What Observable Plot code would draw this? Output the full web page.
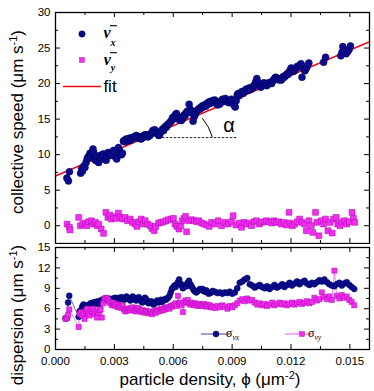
<!DOCTYPE html>
<html><head><meta charset="utf-8">
<script src="https://cdn.jsdelivr.net/npm/d3@7"></script>
<script src="https://cdn.jsdelivr.net/npm/@observablehq/plot@0.6"></script>
<style>
body{margin:0;background:#fff;}
#wrap{position:relative;width:374px;height:391px;overflow:hidden;font-family:"Liberation Sans",Arial,sans-serif;color:#000;}
#wrap svg{position:absolute;left:0;}
.lbl{position:absolute;white-space:nowrap;font-size:17px;line-height:1;}
.lbl sup{font-size:11px;vertical-align:6px;line-height:0;}
</style></head><body><div id="wrap"></div>
<script>
// ---------- data ----------
const xDomain = [0, 0.016];
const xMajorTicks = [0, 0.003, 0.006, 0.009, 0.012, 0.015];
const xMinorTicks = [0.0015, 0.0045, 0.0075, 0.0105, 0.0135];
const topYDomain = [-2.5, 30];
const topYMajor = [0, 5, 10, 15, 20, 25, 30];
const topYMinor = [2.5, 7.5, 12.5, 17.5, 22.5, 27.5];
const botYDomain = [0, 15];
const botYMajor = [0, 3, 6, 9, 12, 15];
const botYMinor = [1.5, 4.5, 7.5, 10.5, 13.5];

const fitPhi = [0, 0.016];
const fitV = [7.0, 25.9];
const dashV = 12.4, dashPhi = [0.00524, 0.00925];
const arcStart = [0.00802, 12.4], arcEnd = [0.00751, 15.05];

// mean velocity x  [phi, v]
const vxPoints = [
[0.00058,6.7],[0.00066,6.3],[0.00071,7.6],
[0.00128,7.4],[0.00133,8.0],[0.00138,7.7],[0.00145,8.4],[0.00150,8.2],[0.00156,8.9],[0.00161,9.4],[0.00166,9.7],[0.00170,9.6],[0.00176,10.2],[0.00181,10.0],[0.00186,10.3],[0.00191,10.8],[0.00195,10.3],[0.00199,9.4],[0.00203,9.2],[0.00207,9.8],[0.00212,9.6],[0.00216,9.0],[0.00220,8.9],[0.00225,9.5],[0.00230,9.9],[0.00234,9.6],[0.00239,10.0],[0.00244,10.1],[0.00249,9.7],[0.00254,9.3],[0.00258,9.2],[0.00263,9.8],[0.00268,10.3],[0.00272,10.0],[0.00277,9.9],[0.00282,10.2],[0.00287,9.9],[0.00292,10.5],[0.00297,10.6],[0.00302,10.4],[0.00307,9.6],[0.00312,9.4],[0.00317,10.4],[0.00321,11.0],[0.00326,10.6],[0.00331,10.3],[0.00336,10.0],[0.00341,10.2],
[0.00346,11.9],[0.00350,12.0],[0.00355,11.8],[0.00360,12.2],[0.00365,12.1],[0.00370,12.0],[0.00375,12.3],[0.00380,12.0],[0.00385,12.2],[0.00390,12.4],[0.00395,12.3],[0.00400,12.5],[0.00406,12.4],[0.00411,12.7],[0.00416,12.6],[0.00421,12.3],[0.00426,12.5],[0.00431,12.4],[0.00436,12.2],[0.00441,12.6],[0.00446,12.4],[0.00451,12.5],[0.00456,12.8],[0.00461,12.6],[0.00466,12.8],[0.00471,12.5],[0.00476,12.7],[0.00481,12.7],[0.00486,12.9],[0.00491,13.1],[0.00496,13.4],[0.00501,13.2],[0.00506,13.5],[0.00511,13.1],[0.00516,13.0],[0.00521,12.9],[0.00526,12.7],[0.00531,12.8],[0.00536,13.2],[0.00541,13.4],[0.00546,13.6],[0.00551,13.4],[0.00556,13.8],[0.00561,14.0],[0.00566,13.9],[0.00571,14.2],[0.00576,14.3],[0.00581,14.5],[0.00586,14.6],[0.00591,14.8],[0.00596,15.2],[0.00601,15.0],[0.00606,15.4],
[0.00611,15.6],[0.00616,15.8],[0.00621,15.5],[0.00626,15.2],[0.00631,14.9],[0.00636,15.1],[0.00641,14.8],[0.00646,15.0],[0.00651,15.3],[0.00656,15.6],[0.00661,15.5],[0.00666,15.9],[0.00671,16.1],[0.00676,16.0],[0.00681,17.1],[0.00686,16.4],[0.00691,15.9],[0.00696,16.1],[0.00701,14.7],[0.00706,15.3],[0.00711,15.6],[0.00716,15.9],[0.00721,16.2],[0.00726,16.3],[0.00731,16.5],[0.00736,16.4],[0.00741,16.7],[0.00746,16.6],[0.00751,16.9],[0.00756,16.8],[0.00761,17.0],[0.00766,16.8],[0.00771,17.2],[0.00776,17.1],[0.00781,17.4],[0.00786,17.2],[0.00791,17.5],[0.00796,17.3],[0.00801,17.6],[0.00806,17.4],[0.00811,17.7],[0.00816,17.5],[0.00821,17.2],[0.00826,17.0],[0.00831,17.3],[0.00836,17.1],[0.00841,17.3],[0.00846,17.6],[0.00851,17.8],[0.00856,17.5],[0.00861,17.7],[0.00866,17.9],[0.00871,17.6],[0.00876,17.4],[0.00881,17.5],[0.00886,17.3],[0.00891,17.6],[0.00896,17.8],[0.00901,17.5],[0.00906,17.2],[0.00911,16.9],[0.00916,16.7],[0.00921,17.6],[0.00926,18.4],[0.00931,18.6],[0.00936,18.3],[0.00941,18.5],[0.00946,18.7],[0.00951,18.9],[0.00956,18.6],[0.00961,18.8],[0.00966,19.0],[0.00971,19.2],[0.00976,19.0],[0.00981,19.3],[0.00986,19.1],[0.00991,19.4],[0.00996,19.2],[0.01001,19.5],[0.01006,19.4],[0.01011,19.7],[0.01016,19.9],[0.01021,20.3],[0.01026,20.7],[0.01031,20.2],[0.01036,19.8],[0.01041,19.6],[0.01046,19.5],[0.01051,19.8],[0.01056,19.9],[0.01061,20.1],[0.01066,19.9],[0.01071,20.0],[0.01076,19.7],[0.01081,19.9],[0.01086,20.1],[0.01091,20.0],[0.01096,20.2],[0.01101,20.0],[0.01106,20.3],[0.01111,20.5],[0.01116,20.7],[0.01121,20.9],[0.01126,20.8],[0.01131,20.6],[0.01136,20.7],[0.01141,20.5],[0.01146,20.6],[0.01151,20.5],[0.01156,20.8],[0.01161,21.0],[0.01166,20.9],[0.01171,21.1],[0.01176,21.2],[0.01181,21.4],[0.01186,21.3],[0.01191,21.6],[0.01196,21.9],[0.01201,22.2],[0.01206,21.9],[0.01211,21.7],[0.01216,21.8],[0.01221,22.0],[0.01226,22.2],[0.01231,22.4],[0.01236,22.3],[0.01241,22.5],[0.01246,22.6],[0.01251,22.8],[0.01256,20.9],[0.01261,22.4],[0.01266,22.0],[0.01271,21.8],[0.01276,22.1],[0.01281,22.3],[0.01291,22.9],
[0.01366,23.0],[0.01376,23.7],[0.01454,23.9],[0.01460,24.4],[0.01464,25.2],[0.01472,24.6],[0.01481,24.2],[0.01489,24.5],[0.01496,24.8],[0.01503,25.3]
];

// mean velocity y  [phi, v]
const vyPoints = [
[0.00059,0.23],[0.00071,-0.23],[0.00074,-0.6],[0.00118,1.17],[0.00127,0],[0.00139,0.23],[0.00152,0.38],[0.00161,0],[0.00169,0.56],[0.00183,0.7],[0.00195,0.23],[0.00203,0.47],[0.00212,0],[0.00220,0.23],[0.00233,-0.47],[0.00245,-1.08],
[0.00257,1.88],[0.00267,1.17],[0.00276,1.5],[0.00284,0.94],[0.00296,1.27],[0.00308,1.03],[0.00321,1.78],[0.00330,1.17],[0.00342,0.94],[0.00355,1.17],[0.00367,0.7],[0.00381,0.94],[0.00393,0.47],[0.00406,0.23],[0.00415,-0.1],[0.00426,0.56],[0.00437,0.94],[0.00448,0.23],[0.00457,0.7],[0.00470,0.23],[0.00482,0],[0.00491,-0.38],[0.00503,-0.7],[0.00511,-0.1],[0.00525,0.38],[0.00538,0.47],[0.00550,0.56],[0.00563,0.7],[0.00575,0.85],[0.00589,0.94],[0.00601,1.03],[0.00609,0.23],[0.00619,-0.1],[0.00629,-0.47],[0.00638,0],[0.00646,0.7],[0.00655,1.03],[0.00663,1.31],[0.00668,-0.85],[0.00680,0.7],[0.00694,0.85],[0.00707,0.7],[0.00719,0.56],[0.00731,0.7],[0.00745,0.38],[0.00756,0.23],[0.00770,0.1],[0.00783,-0.1],[0.00795,0.47],
[0.00812,0.23],[0.00829,0.7],[0.00846,0],[0.00863,0.47],[0.00880,0.23],[0.00897,0.56],[0.00905,1.41],[0.00919,0.1],[0.00936,0.38],[0.00948,-0.23],[0.00960,0.47],[0.00973,0.23],[0.00987,0.38],[0.00999,0],[0.01012,0.56],[0.01024,0.7],[0.01038,0.23],[0.01050,0.47],[0.01063,0.56],[0.01075,0.7],[0.01089,0.56],[0.01101,0.38],[0.01113,0.7],[0.01126,0.47],[0.01138,0.56],[0.01151,0.23],[0.01164,0.47],[0.01177,0.1],[0.01190,1.88],[0.01193,0.38],[0.01207,0],[0.01219,0.23],[0.01231,0.56],[0.01244,0.94],[0.01256,0.47],[0.01269,0.23],[0.01278,-0.7],[0.01291,0.7],[0.01303,0],[0.01311,-0.94],[0.01325,1.88],[0.01332,0.47],[0.01342,-1.41],[0.01354,0.7],[0.01366,0.23],[0.01376,0.94],[0.01388,-0.7],[0.01399,0.47],[0.01410,-1.03],[0.01417,0.94],[0.01430,1.17],[0.01438,0.23],[0.01450,0],[0.01460,0.47],[0.01472,0.7],[0.01484,0.23],[0.01497,0.56],[0.01511,1.88],[0.01518,1.03],[0.01525,0.47]
];

// dispersion  [phi, sigma_vx, sigma_vy]
const sigmaPoints = [
[0.00051,4.6,4.5],[0.00058,4.6,4.7],[0.00064,6.9,5.1],[0.00070,7.9,5.9],
[0.00118,4.8,3.3],[0.00123,5.6,5.2],[0.00130,5.8,5.5],[0.00136,6.3,5.0],[0.00142,6.6,5.4],[0.00148,6.1,4.5],[0.00155,6.5,5.7],[0.00161,6.0,6.0],[0.00167,6.4,5.3],[0.00173,6.6,5.0],[0.00179,6.8,5.9],[0.00186,6.5,5.5],[0.00192,6.9,6.0],[0.00198,6.6,5.2],[0.00205,7.0,5.6],[0.00211,6.8,4.7],[0.00217,7.1,5.4],[0.00224,6.7,5.8],[0.00230,7.0,5.9],[0.00236,7.3,4.7],[0.00243,7.1,6.8],[0.00249,7.4,7.4],[0.00255,7.5,7.6],[0.00262,7.3,7.5],[0.00268,7.5,7.3],[0.00274,7.2,7.0],[0.00280,7.4,6.8],[0.00287,7.2,6.5],[0.00293,7.5,6.9],[0.00299,7.4,6.6],[0.00305,7.6,6.4],[0.00312,7.2,6.7],[0.00318,7.3,6.2],[0.00324,7.6,6.5],[0.00330,7.4,6.3],[0.00337,7.7,6.1],[0.00343,7.5,6.4],[0.00349,7.3,5.9],[0.00355,7.5,5.6],[0.00362,7.8,6.0],[0.00368,7.6,5.7],[0.00374,7.4,6.0],[0.00381,7.2,5.8],[0.00387,7.5,6.1],[0.00393,7.8,6.2],[0.00399,7.6,5.8],[0.00406,7.3,5.6],[0.00412,7.2,5.9],[0.00418,7.5,6.1],[0.00424,7.7,6.0],[0.00431,7.4,5.7],[0.00437,7.1,5.5],[0.00443,6.9,5.8],[0.00449,7.2,5.6],[0.00456,7.6,5.4],[0.00462,7.4,5.7],[0.00468,7.0,5.5],[0.00474,6.8,5.3],[0.00481,6.9,5.6],[0.00487,7.1,5.4],[0.00493,6.8,5.2],[0.00499,6.6,5.5],[0.00506,6.8,5.7],[0.00512,7.0,5.4],[0.00518,7.2,5.8],[0.00524,6.9,5.6],[0.00531,7.1,5.9],[0.00537,7.3,5.7],[0.00543,7.0,6.0],[0.00549,7.2,5.8],[0.00556,7.4,6.1],[0.00562,7.3,5.9],[0.00568,7.5,6.2],
[0.00574,7.6,6.2],[0.00581,7.9,6.0],[0.00587,8.4,6.4],[0.00593,8.9,6.3],[0.00599,9.1,6.5],[0.00606,9.4,6.6],[0.00612,9.2,6.8],[0.00618,9.6,6.4],[0.00624,9.9,7.9],[0.00630,10.3,6.7],[0.00637,9.7,6.9],[0.00643,9.4,6.5],[0.00649,9.0,5.5],[0.00655,9.2,6.9],[0.00662,9.5,7.2],[0.00668,9.3,7.0],[0.00674,9.8,7.3],[0.00680,10.1,6.8],[0.00687,9.6,6.6],[0.00693,9.3,6.9],[0.00699,9.0,6.7],[0.00705,8.7,6.5],[0.00712,8.5,6.8],[0.00718,8.4,6.6],[0.00724,8.6,6.4],[0.00730,8.7,6.7],[0.00737,8.9,6.5],[0.00743,8.8,6.6],[0.00749,8.9,6.4],[0.00755,8.6,6.7],[0.00762,8.5,6.5],[0.00768,8.7,6.3],[0.00774,8.4,6.6],[0.00780,8.2,6.4],[0.00787,8.3,6.5],[0.00793,8.4,6.2],
[0.00800,8.6,6.3],[0.00812,8.5,6.1],[0.00825,8.3,6.4],[0.00838,8.4,6.2],[0.00850,8.2,6.5],[0.00863,8.4,6.3],[0.00876,8.3,6.0],[0.00888,8.5,6.4],[0.00901,8.2,6.2],[0.00914,8.4,6.5],[0.00926,9.0,6.8],[0.00939,9.8,7.2],[0.00952,10.0,7.4],[0.00964,10.3,7.1],[0.00977,10.5,7.5],[0.00990,9.6,7.2],[0.01002,9.4,7.3],[0.01015,9.1,6.9],[0.01028,9.3,6.6],[0.01040,9.5,6.8],[0.01053,9.2,6.5],[0.01066,9.0,6.7],[0.01078,9.3,6.4],[0.01091,8.9,6.6],[0.01104,9.2,6.9],[0.01116,9.5,6.5],[0.01129,9.1,6.7],[0.01142,9.3,6.9],[0.01155,9.6,6.6],[0.01167,9.2,6.8],[0.01180,9.5,6.5],[0.01193,9.8,6.7],[0.01205,9.4,6.9],[0.01218,9.7,6.6],[0.01231,10.0,6.8],[0.01243,9.6,7.0],[0.01256,9.9,6.7],[0.01269,10.1,6.9],[0.01281,9.7,7.1],[0.01294,9.5,6.8],[0.01307,9.8,7.0],[0.01319,9.6,7.6],[0.01332,9.9,7.2],[0.01345,10.2,7.4],[0.01357,10.0,8.4],[0.01370,10.3,7.7],[0.01383,9.9,7.4],[0.01395,9.6,7.8],[0.01408,9.4,7.3],[0.01421,9.3,11.6],[0.01433,9.6,7.9],[0.01446,9.8,7.5],[0.01459,9.4,8.0],[0.01471,9.7,7.6],[0.01484,9.9,7.8],[0.01497,9.5,7.3],[0.01509,9.2,7.0],[0.01522,8.9,6.5]
];

// ---------- style ----------
const FONT = "'Liberation Sans', Arial, sans-serif";
const SERIF = "'Liberation Serif', 'Times New Roman', serif";
const BLUE = "#0c0c8e", BLUED = "#00005c";
const MAG = "#f02ef0", MAGD = "#b000b0";
const RED = "#e8101c";
const W = 374, ML = 55, MR = 5;
const PW = W - ML - MR;

function frameTicks(xs, ys, ph, len) {
  return [
    Plot.tickX(xs, {x: d => d, insetBottom: ph - len, stroke: "#000"}),
    Plot.tickX(xs, {x: d => d, insetTop: ph - len, stroke: "#000"}),
    Plot.tickY(ys, {y: d => d, insetRight: PW - len, stroke: "#000"}),
    Plot.tickY(ys, {y: d => d, insetLeft: PW - len, stroke: "#000"})
  ];
}

const vxData = vxPoints.map(([phi, v]) => ({phi, v}));
const vyData = vyPoints.map(([phi, v]) => ({phi, v}));
const fitData = fitPhi.map((phi, i) => ({phi, v: fitV[i]}));
const sData = sigmaPoints.map(([phi, sx, sy]) => ({phi, sx, sy}));

// ---------- top panel ----------
const TH = 244, TMT = 12, TMB = 1;
const TPH = TH - TMT - TMB;
const topPlot = Plot.plot({
  width: W, height: TH, marginTop: TMT, marginBottom: TMB, marginLeft: ML, marginRight: MR,
  style: {fontFamily: FONT, fontSize: "11.5px", background: "white", overflow: "visible"},
  x: {domain: xDomain, axis: null},
  y: {domain: topYDomain},
  marks: [
    Plot.line(fitData, {x: "phi", y: "v", stroke: RED, strokeWidth: 1.6}),
    Plot.ruleY([{v: dashV, a: dashPhi[0], b: dashPhi[1]}], {y: "v", x1: "a", x2: "b", stroke: "#222", strokeWidth: 1, strokeDasharray: "2.5,1.5"}),
    Plot.dot(vyData, {x: "phi", y: "v", symbol: "square", r: 3.3, fill: MAG, stroke: MAGD, strokeWidth: 0.5}),
    Plot.dot(vxData, {x: "phi", y: "v", r: 3.5, fill: BLUE, stroke: BLUED, strokeWidth: 0.5}),
    ...frameTicks(xMajorTicks, topYMajor, TPH, 5),
    ...frameTicks(xMinorTicks, topYMinor, TPH, 3),
    Plot.axisY({ticks: topYMajor, tickSize: 0, tickPadding: 5, label: null, fontSize: 11.5, tickFormat: d => String(d)}),
    Plot.frame({stroke: "#000", strokeWidth: 1.3})
  ]
});
topPlot.style.top = "0px";

// ---------- bottom panel ----------
const BH = 391 - TH, BMT = 3, BMB = 42;
const BPH = BH - BMT - BMB;
const bottomPlot = Plot.plot({
  width: W, height: BH, marginTop: BMT, marginBottom: BMB, marginLeft: ML, marginRight: MR,
  style: {fontFamily: FONT, fontSize: "11.5px", background: "white", overflow: "visible"},
  x: {domain: xDomain},
  y: {domain: botYDomain},
  marks: [
    Plot.line(sData, {x: "phi", y: "sx", stroke: BLUE, strokeWidth: 0.6}),
    Plot.line(sData, {x: "phi", y: "sy", stroke: MAG, strokeWidth: 0.6}),
    Plot.dot(sData, {x: "phi", y: "sx", r: 3, fill: BLUE, stroke: BLUED, strokeWidth: 0.5}),
    Plot.dot(sData, {x: "phi", y: "sy", symbol: "square", r: 2.9, fill: MAG, stroke: MAGD, strokeWidth: 0.5}),
    ...frameTicks(xMajorTicks, botYMajor, BPH, 5),
    ...frameTicks(xMinorTicks, botYMinor, BPH, 3),
    Plot.axisY({ticks: botYMajor, tickSize: 0, tickPadding: 5, label: null, fontSize: 11.5, tickFormat: d => String(d)}),
    Plot.axisX({ticks: xMajorTicks, tickSize: 0, tickPadding: 7, label: null, fontSize: 11.5, tickFormat: d3.format(".3f")}),
    Plot.frame({stroke: "#000", strokeWidth: 1.3})
  ]
});
bottomPlot.style.top = TH + "px";

const wrap = document.getElementById("wrap");
wrap.appendChild(topPlot);
wrap.appendChild(bottomPlot);

// ---------- annotations & legends ----------
const sxT = topPlot.scale("x"), syT = topPlot.scale("y");
const gt = d3.select(topPlot).append("g");
const a0 = [sxT.apply(arcStart[0]), syT.apply(arcStart[1])];
const a1 = [sxT.apply(arcEnd[0]), syT.apply(arcEnd[1])];
gt.append("path").attr("d", `M${a0[0]},${a0[1]} A52,52 0 0,0 ${a1[0]},${a1[1]}`)
  .attr("fill", "none").attr("stroke", "#000").attr("stroke-width", 1);
gt.append("text").attr("x", 229).attr("y", 131.5).attr("text-anchor", "middle")
  .attr("font-family", FONT).attr("font-size", 20).text("α");

gt.append("circle").attr("cx", 82).attr("cy", 34).attr("r", 3.2).attr("fill", BLUE).attr("stroke", BLUED).attr("stroke-width", 0.5);
gt.append("rect").attr("x", 79.7).attr("y", 57.7).attr("width", 4.6).attr("height", 4.6).attr("fill", MAG).attr("stroke", MAGD).attr("stroke-width", 0.5);
gt.append("line").attr("x1", 63).attr("x2", 101).attr("y1", 86.5).attr("y2", 86.5).attr("stroke", RED).attr("stroke-width", 1.6);
function vbar(x, y, sub, sdy) {
  const t = gt.append("text").attr("x", x).attr("y", y).attr("font-family", SERIF)
    .attr("font-style", "italic").attr("font-weight", "bold").attr("font-size", 16);
  t.append("tspan").text("v");
  t.append("tspan").attr("font-size", 10).attr("dy", sdy).attr("dx", 0).text(sub);
  gt.append("line").attr("x1", x + 0.5).attr("x2", x + 7.5).attr("y1", y - 12.3).attr("y2", y - 12.3)
    .attr("stroke", "#000").attr("stroke-width", 1.1);
}
vbar(109.5, 38, "x", 8);
vbar(109.5, 65, "y", 6);
gt.append("text").attr("x", 110).attr("y", 91.5).attr("font-family", FONT).attr("font-size", 17).text("fit");

const gb = d3.select(bottomPlot).append("g");
const ly = 334 - TH;
gb.append("line").attr("x1", 201).attr("x2", 230).attr("y1", ly).attr("y2", ly).attr("stroke", BLUE).attr("stroke-width", 0.8);
gb.append("circle").attr("cx", 216).attr("cy", ly).attr("r", 3).attr("fill", BLUE).attr("stroke", BLUED).attr("stroke-width", 0.5);
gb.append("line").attr("x1", 285).attr("x2", 312).attr("y1", ly).attr("y2", ly).attr("stroke", MAG).attr("stroke-width", 0.8);
gb.append("rect").attr("x", 299.7).attr("y", ly - 2.3).attr("width", 4.6).attr("height", 4.6).attr("fill", MAG).attr("stroke", MAGD).attr("stroke-width", 0.5);
function sig(x, sub) {
  const t = gb.append("text").attr("x", x).attr("y", ly + 3).attr("font-family", SERIF).attr("font-size", 12);
  t.append("tspan").text("σ");
  t.append("tspan").attr("font-size", 7.5).attr("font-style", "italic").attr("dy", 2.5).text(sub);
}
sig(232.5, "vx");
sig(314.5, "vy");

// axis titles
function label(html, cx, cy, rotate) {
  const d = document.createElement("div");
  d.className = "lbl";
  d.innerHTML = html;
  d.style.left = cx + "px";
  d.style.top = cy + "px";
  d.style.transform = "translate(-50%,-50%)" + (rotate ? " rotate(-90deg)" : "");
  wrap.appendChild(d);
}
label("collective speed (μm s<sup>-1</sup>)", 17, 122, true);
label("dispersion (μm s<sup>-1</sup>)", 17, 315, true);
label("particle density, ϕ (μm<sup>-2</sup>)", 210, 379, false);
</script></body></html>
